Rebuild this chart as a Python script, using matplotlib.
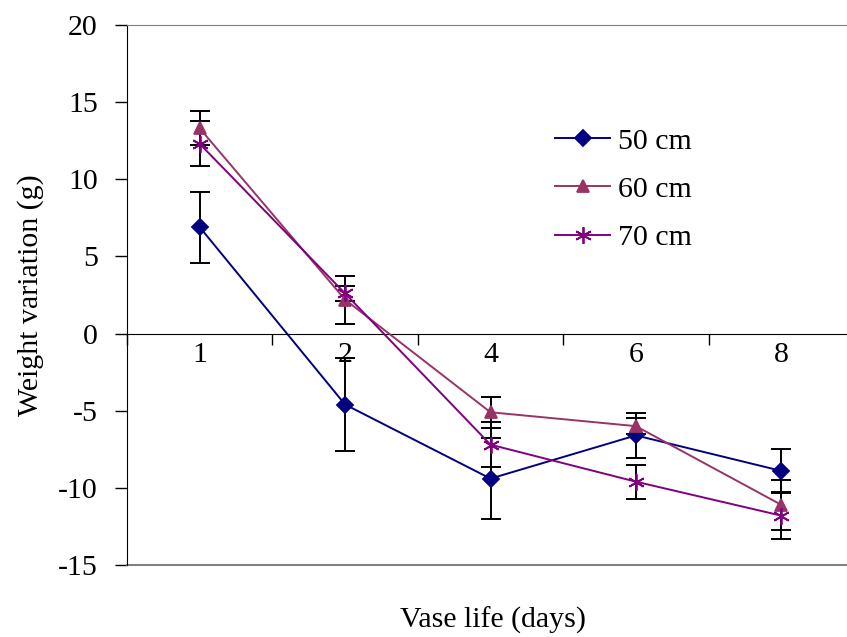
import numpy as np
import matplotlib
matplotlib.use('Agg')
import matplotlib.pyplot as plt

# data
days = ['1', '2', '4', '6', '8']
labels = ['50 cm', '60 cm', '70 cm']
w50 = [6.9, -4.6, -9.4, -6.6, -8.9]
e50 = [2.3, 3.0, 2.65, 1.45, 1.42]
w60 = [13.3, 2.2, -5.1, -6.0, -11.1]
e60 = [1.1, 1.55, 1.0, 0.5, 1.6]
w70 = [12.3, 2.6, -7.2, -9.6, -11.8]
e70 = [1.45, 0.5, 1.45, 1.1, 1.5]

plt.rcParams['font.family'] = ['Liberation Serif', 'DejaVu Serif']
plt.rcParams['font.size'] = 21.5
plt.rcParams['axes.unicode_minus'] = False

fig = plt.figure(figsize=(8.47, 6.37), dpi=100)
ax = fig.add_axes([127 / 847, 72 / 637, 727 / 847, 540 / 637])

x = np.arange(1, len(days) + 1)
series = [(w50, e50, '#000080', 'D', 8),
          (w60, e60, '#993366', '^', 9),
          (w70, e70, '#800080', (6, 2, 0), 12)]
for (y, err, col, mk, ms), lab in zip(series, labels):
    ax.errorbar(x, y, yerr=err, fmt='none', ecolor='black', elinewidth=1.4,
                capsize=7.5, capthick=1.4, zorder=2)
    ax.plot(x, y, color=col, marker=mk, markersize=ms, markeredgecolor=col,
            markeredgewidth=1.3, linewidth=1.4, label=lab, zorder=3)

ax.set_xlim(0.5, len(days) + 0.5)
ax.set_ylim(-15, 20)
ax.set_yticks(np.arange(-15, 21, 5))
ax.tick_params(axis='y', direction='out', length=9, width=1, pad=12)

# category axis crossing at zero
ax.spines['bottom'].set_position(('data', 0))
ax.spines['right'].set_visible(False)
ax.spines['top'].set_color('#808080')
ax.axhline(-15, color='#808080', linewidth=1.5, clip_on=False)
ax.set_xticks(np.arange(0.5, len(days) + 1, 1))
ax.set_xticklabels([])
ax.tick_params(axis='x', which='major', direction='out', length=8, width=1)
ax.set_xticks(x, minor=True)
ax.set_xticklabels(days, minor=True)
ax.tick_params(axis='x', which='minor', length=0, pad=6)

ax.set_ylabel('Weight variation (g)', labelpad=10)
fig.text(0.582, 0.026, 'Vase life (days)', ha='center', va='center', fontsize=21.5)

ax.legend(loc='upper left', bbox_to_anchor=(0.589, 0.81), frameon=False,
          handlelength=1.85, handletextpad=0.25, labelspacing=0.72,
          borderpad=0, borderaxespad=0)

fig.savefig('out.png', dpi=100)
